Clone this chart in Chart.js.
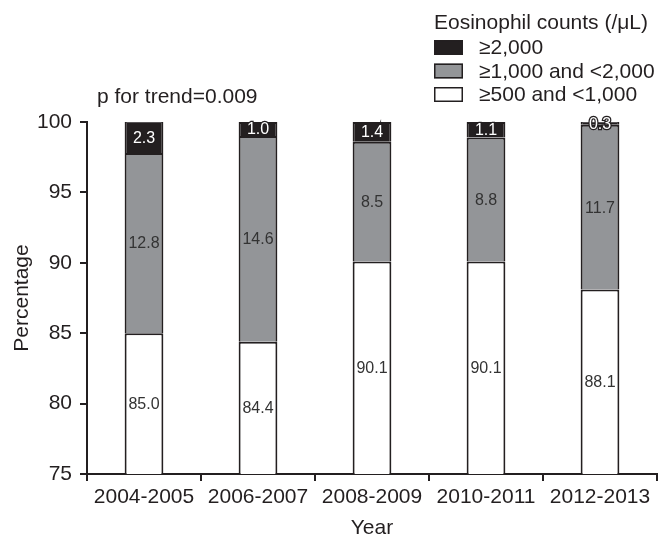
<!DOCTYPE html>
<html>
<head>
<meta charset="utf-8">
<script src="https://cdn.jsdelivr.net/npm/chart.js@4/dist/chart.umd.min.js"></script>
<style>
  html, body { margin: 0; padding: 0; background: #fff; }
  #wrap { width: 661px; height: 539px; }
</style>
</head>
<body>
<div id="wrap"><canvas id="c" width="661" height="539"></canvas></div>
<script>
// Share of eosinophilia cases by count band, per two-year period
const years = ['2004-2005', '2006-2007', '2008-2009', '2010-2011', '2012-2013'];
const lowBand = [85.0, 84.4, 90.1, 90.1, 88.1];   // ≥500 and <1,000
const midBand = [12.8, 14.6, 8.5, 8.8, 11.7];     // ≥1,000 and <2,000
const highBand = [2.3, 1.0, 1.4, 1.1, 0.3];       // ≥2,000
const bandNames = ['≥500 and <1,000', '≥1,000 and <2,000', '≥2,000'];
const legendTitle = 'Eosinophil counts (/μL)';
const trendNote = 'p for trend=0.009';
const yTicks = [75, 80, 85, 90, 95, 100];
const yLabel = 'Percentage';
const xLabel = 'Year';

const INK = '#231f20';
const FONT = '"Liberation Sans", Arial, Helvetica, sans-serif';
const TEXT_SIZE = 21;

// Value labels centred on the visible part of each segment
const segmentLabels = {
  id: 'segmentLabels',
  afterDatasetsDraw(chart) {
    const { ctx, chartArea } = chart;
    ctx.save();
    ctx.font = '16px ' + FONT;
    ctx.textAlign = 'center';
    ctx.textBaseline = 'middle';
    chart.data.datasets.forEach((ds, di) => {
      const meta = chart.getDatasetMeta(di);
      meta.data.forEach((bar, i) => {
        const top = Math.max(Math.min(bar.y, bar.base), chartArea.top);
        const bottom = Math.min(Math.max(bar.y, bar.base), chartArea.bottom);
        if (bottom <= top) return;
        const y = (top + bottom) / 2 + 1;
        const txt = ds.data[i].toFixed(1);
        if (ds.labelColor === '#ffffff') {
          ctx.lineWidth = 2.5;
          ctx.strokeStyle = INK;
          ctx.strokeText(txt, bar.x, y);
        }
        ctx.fillStyle = ds.labelColor;
        ctx.fillText(txt, bar.x, y);
      });
    });
    ctx.restore();
  }
};

// Legend block with heading, and the trend note above the plot
const sideNotes = {
  id: 'sideNotes',
  afterDraw(chart) {
    const { ctx } = chart;
    ctx.save();
    ctx.font = TEXT_SIZE + 'px ' + FONT;
    ctx.fillStyle = INK;
    ctx.textAlign = 'left';
    ctx.textBaseline = 'middle';
    ctx.fillText(legendTitle, 434, 23);
    ctx.fillText(trendNote, 97, 97);
    const order = chart.data.datasets.slice().reverse();
    order.forEach((ds, k) => {
      const cy = 47.5 + k * 23.5;
      ctx.fillStyle = ds.backgroundColor;
      ctx.fillRect(434, cy - 7.5, 29, 15);
      ctx.lineWidth = 1.5;
      ctx.strokeStyle = INK;
      ctx.strokeRect(434.75, cy - 6.75, 27.5, 13.5);
      ctx.fillStyle = INK;
      ctx.fillText(ds.label, 479, cy + 1);
    });
    ctx.restore();
  }
};

const barStyle = {
  borderColor: INK,
  borderWidth: 2,
  borderSkipped: 'start',
  barPercentage: 0.34,
  categoryPercentage: 1.0,
  clip: 0
};

new Chart(document.getElementById('c'), {
  type: 'bar',
  data: {
    labels: years,
    datasets: [
      Object.assign({ label: bandNames[0], data: lowBand, backgroundColor: '#ffffff', labelColor: '#333333' }, barStyle),
      Object.assign({ label: bandNames[1], data: midBand, backgroundColor: '#939598', labelColor: '#333333' }, barStyle),
      Object.assign({ label: bandNames[2], data: highBand, backgroundColor: INK, labelColor: '#ffffff' }, barStyle)
    ]
  },
  options: {
    responsive: false,
    devicePixelRatio: 1,
    animation: false,
    layout: { padding: { top: 122, right: 4, bottom: 0, left: 0 } },
    plugins: {
      legend: { display: false },
      tooltip: { enabled: false }
    },
    scales: {
      x: {
        stacked: true,
        afterFit(scale) { scale.height = 65; },
        border: { display: true, color: INK, width: 2 },
        grid: { display: true, drawOnChartArea: false, drawTicks: true, tickLength: 7, color: INK, lineWidth: 2, offset: true },
        ticks: { color: INK, font: { family: FONT, size: TEXT_SIZE }, padding: 4, maxRotation: 0 },
        title: { display: true, text: xLabel, color: INK, font: { family: FONT, size: TEXT_SIZE, lineHeight: 1 }, padding: { top: 0, bottom: 0 } }
      },
      y: {
        stacked: true,
        min: 75,
        max: 100,
        afterFit(scale) { scale.width = 87; },
        afterBuildTicks(scale) { scale.ticks = yTicks.map(v => ({ value: v })); },
        border: { display: true, color: INK, width: 2 },
        grid: { display: true, drawOnChartArea: false, drawTicks: true, tickLength: 7, color: INK, lineWidth: 2 },
        ticks: { color: INK, font: { family: FONT, size: TEXT_SIZE }, padding: 8 },
        title: { display: true, text: yLabel, color: INK, font: { family: FONT, size: TEXT_SIZE, lineHeight: 1 }, padding: { top: 12, bottom: 0 } }
      }
    }
  },
  plugins: [segmentLabels, sideNotes]
});
</script>
</body>
</html>
